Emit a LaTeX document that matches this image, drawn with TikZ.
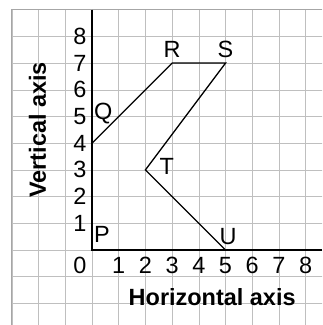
\documentclass[tikz,border=0pt]{standalone}
\usepackage{fontspec}
\setmainfont{Liberation Sans}
\usepackage{tikz}
\usetikzlibrary{positioning}

\begin{document}
\begin{tikzpicture}[>=latex,
    ticklab/.style={font=\fontsize{25}{30}\selectfont, inner sep=0pt},
    ptlab/.style={font=\fontsize{25}{30}\selectfont, inner sep=0pt},
    axlab/.style={font=\fontsize{25}{30}\selectfont\bfseries, inner sep=0pt},
    outline/.style={line width=1.4pt, line join=miter}]
    \useasboundingbox (-3.446,-2.809) rectangle (8.614,9.363);

    % Lưới ô vuông
    \begin{scope}
        \clip (-3.446,-2.809) rectangle (8.614,9.363);
        \draw[gray!50, line width=0.6pt] (-3,-3) grid (9,9);
    \end{scope}
    \draw[gray!70, line width=0.9pt] (-3,-2.809) -- (-3,9) -- (8.614,9);

    % Hệ trục
    \coordinate (top) at (0,9);
    \coordinate (P) at (0,0);
    \coordinate (right) at (8.614,0);
    \draw[line width=1.8pt] (top) -- (P) -- (right);

    % Các mốc
    \node[ticklab] (x0) at (-0.45,-0.58) {0};
    \foreach \x in {1,...,8} {
        \node[ticklab] (x\x) at (\x,-0.58) {\x};
    }
    \foreach \y in {1,...,8} {
        \node[ticklab, anchor=east] (y\y) at (-0.2,\y) {\y};
    }

    % Các điểm
    \coordinate (Q) at (0,4);
    \coordinate (R) at (3,7);
    \coordinate (S) at (5,7);
    \coordinate (T) at (2,3);
    \coordinate (U) at (5,0);
    \draw[outline] (Q) -- (R) -- (S) -- (T) -- (U);

    \node[ptlab] (lP) at (0.37,0.57) {P};
    \node[ptlab] (lQ) at (0.42,5.1) {Q};
    \node[ptlab] (lR) at (3.0,7.5) {R};
    \node[ptlab] (lS) at (5.0,7.5) {S};
    \node[ptlab] (lT) at (2.8,3.12) {T};
    \node[ptlab] (lU) at (5.1,0.5) {U};

    % Tên trục
    \node[axlab, rotate=90] (vlab) at (-2.04,4.5) {Vertical axis};
    \node[axlab] (hlab) at (4.5,-1.76) {Horizontal axis};
\end{tikzpicture}
\end{document}
